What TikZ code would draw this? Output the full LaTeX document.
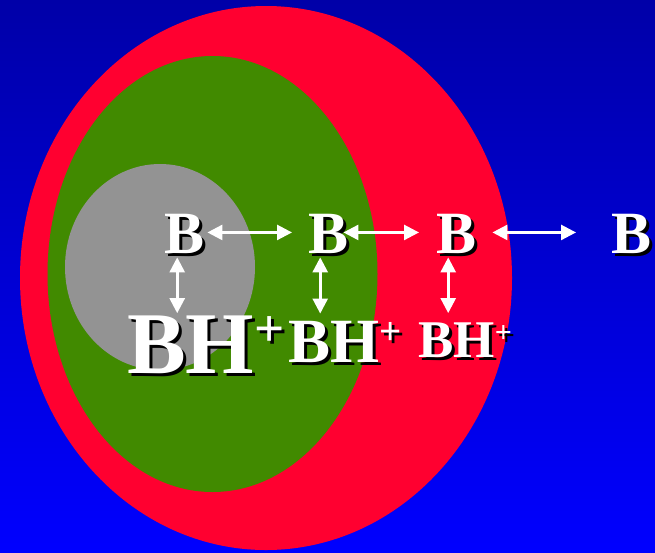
\documentclass[tikz,border=0pt]{standalone}
\usepackage{fontspec}
\setmainfont{Liberation Serif}
\usepackage{tikz}
\usetikzlibrary{arrows.meta}

\definecolor{bgtop}{RGB}{0,0,168}
\definecolor{bgbot}{RGB}{0,0,255}
\definecolor{outerred}{RGB}{255,0,48}
\definecolor{midgreen}{RGB}{65,138,0}
\definecolor{coregray}{RGB}{147,147,147}

% white text with a black drop shadow
\newcommand{\shtext}[1]{\rlap{\kern3pt\raisebox{-3pt}{\color{black}#1}}#1}
% BH with raised plus: {plus size}{raise}
\newcommand{\bhplus}[2]{\shtext{BH}\shtext{\raisebox{#2}{\fontsize{#1}{#1}\selectfont +}}}

\begin{document}
\begin{tikzpicture}[x=1pt, y=-1pt, every node/.style={inner sep=0pt, text=white, anchor=base west},
	dbl/.style={{Triangle[length=15pt,width=15pt]}-{Triangle[length=15pt,width=15pt]}, line width=2.6pt, white}]
		%---------------- BACKGROUND ----------------
		\shade[top color=bgtop, bottom color=bgbot] (0,0) rectangle (655,552);
		\useasboundingbox (0,0) rectangle (655,552);
		
		% nested regions
		\fill[outerred] (266,278) ellipse [x radius=246pt, y radius=272pt];
		\fill[midgreen] (212.5,274) ellipse [x radius=165pt, y radius=218pt];
		\fill[coregray] (160,267) ellipse [x radius=95pt, y radius=103pt];
		
		%---------------- FREE BASE (top row) ----------------
		\foreach \N/\X in {b1/164,b2/308,b3/436,b4/611} {
			\node[font=\fontsize{60}{60}\selectfont\bfseries] (\N) at (\X,253) {\shtext{B}};
		}
		
		%---------------- PROTONATED (bottom row) ----------------
		\node[font=\fontsize{88}{88}\selectfont\bfseries] (bh1) at (127,373) {\bhplus{53}{27pt}};
		\node[font=\fontsize{63}{63}\selectfont\bfseries] (bh2) at (288,362) {\bhplus{39}{18pt}};
		\node[font=\fontsize{53}{53}\selectfont\bfseries] (bh3) at (418,357) {\bhplus{30}{14.5pt}};
		
		% exchange between regions
		\draw[dbl] ([xshift=3pt,yshift=2.5pt]b1.east) -- ([xshift=-16pt,yshift=2.5pt]b2.west);
		\draw[dbl] ([xshift=-5pt,yshift=2.5pt]b2.east) -- ([xshift=-17pt,yshift=2.5pt]b3.west);
		\draw[dbl] ([xshift=16pt,yshift=2.5pt]b3.east) -- ([xshift=-35pt,yshift=2.5pt]b4.west);
		
		% protonation equilibria
		\draw[dbl] ([xshift=-7pt,yshift=-1pt]b1.south) -- ([xshift=-7pt,yshift=2pt]b1.south |- bh1.north);
		\draw[dbl] ([xshift=-8pt,yshift=-1pt]b2.south) -- ([xshift=-8pt,yshift=7pt]b2.south |- bh2.north);
		\draw[dbl] ([xshift=-8pt,yshift=-1pt]b3.south) -- ([xshift=-8pt,yshift=9pt]b3.south |- bh3.north);
	\end{tikzpicture}
\end{document}
